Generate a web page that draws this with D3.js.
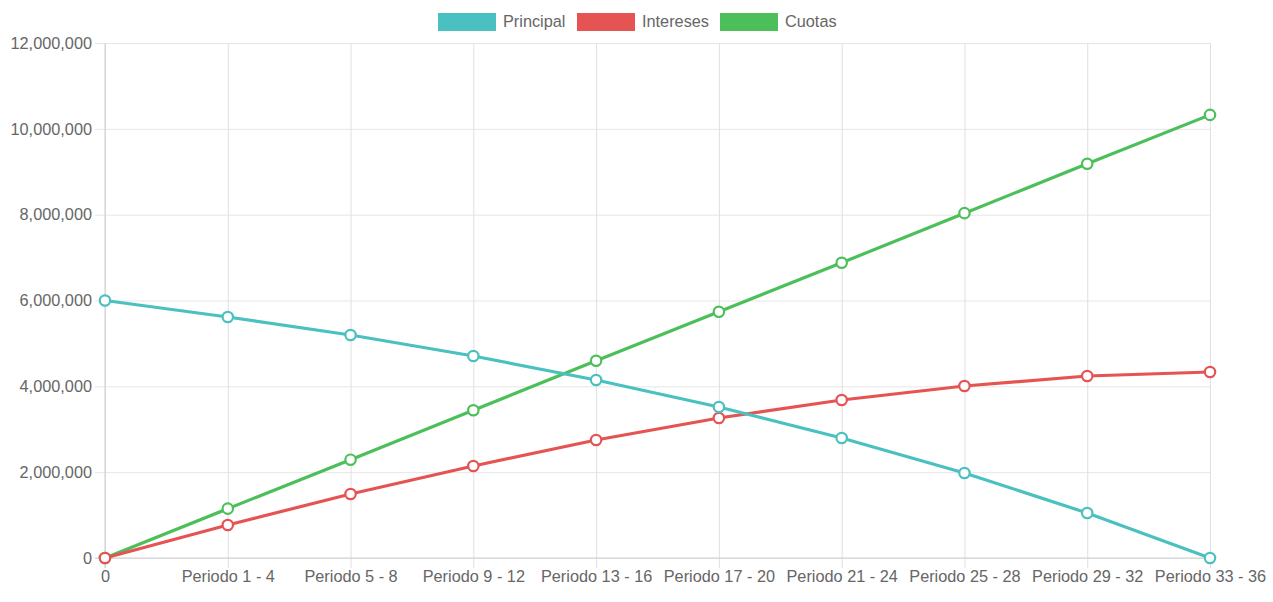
<!DOCTYPE html>
<html>
<head>
<meta charset="utf-8">
<script src="https://cdn.jsdelivr.net/npm/d3@7"></script>
<style>
  body { margin: 0; background: #fff; }
  svg { display: block; font-family: "Liberation Sans", Arial, sans-serif; }
</style>
</head>
<body>
<svg id="chart" width="1273" height="602"></svg>
<script>
const categories = ["0", "Periodo 1 - 4", "Periodo 5 - 8", "Periodo 9 - 12", "Periodo 13 - 16",
  "Periodo 17 - 20", "Periodo 21 - 24", "Periodo 25 - 28", "Periodo 29 - 32", "Periodo 33 - 36"]
const principal = [6000000, 5615000, 5196000, 4707000, 4148000, 3519000, 2796000, 1981000, 1049000, 0]
const intereses = [0, 769000, 1491000, 2144000, 2750000, 3262000, 3682000, 4008000, 4241000, 4334000]
const cuotas = [0, 1150000, 2290000, 3443000, 4596000, 5737000, 6880000, 8035000, 9186000, 10325000]
const yTicks = [0, 2000000, 4000000, 6000000, 8000000, 10000000, 12000000]

const series = [
    { name: "Principal", values: principal, color: "#4bc0c0" },
    { name: "Intereses", values: intereses, color: "#e65353" },
    { name: "Cuotas", values: cuotas, color: "#4cbf5a" }
]

const area = { left: 105, right: 1210, top: 43, bottom: 558 }
const fontSize = "16.3px"
const svg = d3.select("#chart")

const x = d3.scalePoint().domain(categories).range([area.left, area.right])
const y = d3.scaleLinear().domain([0, 12000000]).range([area.bottom, area.top])
const fmt = d3.format(",")

// y grid + labels
const yAxis = d3.axisLeft(y).tickValues(yTicks).tickFormat(fmt)
    .tickSize(-(area.right - area.left)).tickPadding(13)
svg.append("g")
    .attr("transform", `translate(${area.left},0)`)
    .call(yAxis)
    .call(g => g.select(".domain").remove())
    .call(g => g.selectAll(".tick line").attr("stroke", "#e6e6e6").attr("x1", -10))
    .call(g => g.selectAll(".tick text").attr("fill", "#666").style("font-size", fontSize)
        .style("font-family", "Liberation Sans, Arial, sans-serif"))

// x grid + labels
const xAxis = d3.axisBottom(x).tickSize(-(area.bottom - area.top)).tickPadding(12)
svg.append("g")
    .attr("transform", `translate(0,${area.bottom})`)
    .call(xAxis)
    .call(g => g.select(".domain").remove())
    .call(g => g.selectAll(".tick line").attr("stroke", "#e0e0e0").attr("y1", 10))
    .call(g => g.selectAll(".tick text").attr("fill", "#666").style("font-size", fontSize)
        .style("font-family", "Liberation Sans, Arial, sans-serif"))

// axis lines
svg.append("line").attr("x1", area.left).attr("x2", area.left)
    .attr("y1", area.top).attr("y2", area.bottom + 10)
    .attr("stroke", "#cfcfcf")
svg.append("line").attr("x1", area.left - 10).attr("x2", area.right)
    .attr("y1", area.bottom).attr("y2", area.bottom)
    .attr("stroke", "#cfcfcf")

const line = d3.line().x((d, i) => x(categories[i])).y(d => y(d))

// draw last dataset first so Principal sits on top
series.slice().reverse().forEach(s => {
    const g = svg.append("g")
    g.append("path")
        .attr("d", line(s.values))
        .attr("fill", "none")
        .attr("stroke", s.color)
        .attr("stroke-width", 3.2)
    g.selectAll("circle")
        .data(s.values)
        .join("circle")
        .attr("cx", (d, i) => x(categories[i]))
        .attr("cy", d => y(d))
        .attr("r", 5.2)
        .attr("fill", "#fff")
        .attr("stroke", s.color)
        .attr("stroke-width", 2.2)
})

// legend
const legendX = [438, 577, 720]
const legend = svg.append("g")
series.forEach((s, i) => {
    legend.append("rect")
        .attr("x", legendX[i]).attr("y", 13)
        .attr("width", 58).attr("height", 18)
        .attr("fill", s.color)
    legend.append("text")
        .attr("x", legendX[i] + 65).attr("y", 21)
        .attr("dy", "0.35em")
        .attr("fill", "#666")
        .style("font-size", fontSize)
        .text(s.name)
})
</script>
</body>
</html>
